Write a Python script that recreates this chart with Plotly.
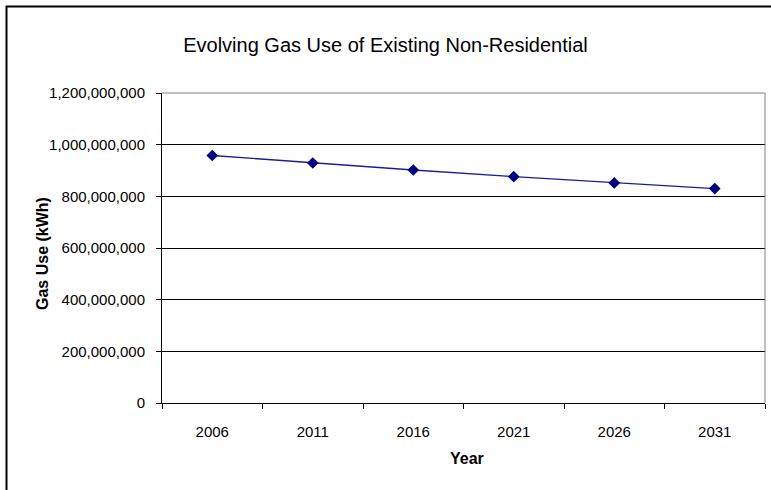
import plotly.graph_objects as go

# Gas use of existing non-residential buildings, by year
years = ["2006", "2011", "2016", "2021", "2026", "2031"]
gas_use_kwh = [958_000_000, 929_000_000, 902_000_000, 876_000_000, 852_000_000, 830_000_000]
y_ticks = [0, 200_000_000, 400_000_000, 600_000_000, 800_000_000, 1_000_000_000, 1_200_000_000]

FONT = "Arial, Liberation Sans, sans-serif"
W, H = 771, 490
L, R, T, B = 162, 6, 93, 87

fig = go.Figure()
fig.add_trace(go.Scatter(
    x=years, y=gas_use_kwh, mode="lines+markers",
    line=dict(color="#1c1c96", width=1.3),
    marker=dict(symbol="diamond", size=9, color="#000080"),
    showlegend=False,
))

fig.update_layout(
    width=W, height=H,
    margin=dict(l=L, r=R, t=T, b=B),
    paper_bgcolor="white", plot_bgcolor="white",
    font=dict(family=FONT, color="black"),
    title=dict(text="Evolving Gas Use of Existing Non-Residential",
               x=0.5, xref="container", y=1 - 45 / H, yref="container",
               xanchor="center", yanchor="middle",
               font=dict(size=20, family=FONT, color="black")),
)

fig.update_xaxes(
    type="category", range=[-0.5, len(years) - 0.5],
    showline=True, linecolor="black", linewidth=1,
    ticks="outside", ticklen=5, tickcolor="black", tickson="boundaries",
    tickfont=dict(size=15, family=FONT, color="black"),
    ticklabelstandoff=15,
    showgrid=False, zeroline=False,
)
fig.update_yaxes(
    range=[0, 1_200_000_000], tickvals=y_ticks, tickformat=",d",
    showline=True, linecolor="black", linewidth=1,
    ticks="outside", ticklen=5, tickcolor="black",
    tickfont=dict(size=15, family=FONT, color="black"),
    ticklabelstandoff=8,
    showgrid=True, gridcolor="black", gridwidth=1, zeroline=False,
)

pw, ph = W - L - R, H - T - B

def px_x(p):
    return (p - L) / pw

def px_y(p):
    return (H - B - p) / ph

# axis titles
fig.add_annotation(text="<b>Gas Use (kWh)</b>", xref="paper", yref="paper",
                   x=px_x(43), y=px_y(254), textangle=-90, showarrow=False,
                   xanchor="center", yanchor="middle",
                   font=dict(size=16, family=FONT, color="black"))
fig.add_annotation(text="<b>Year</b>", xref="paper", yref="paper",
                   x=px_x(467), y=px_y(458), showarrow=False,
                   xanchor="center", yanchor="middle",
                   font=dict(size=16, family=FONT, color="black"))

# grey top and right edges of the plot area
fig.add_shape(type="line", xref="paper", yref="paper", x0=0, x1=1, y0=1, y1=1,
              line=dict(color="#808080", width=1), layer="above")
fig.add_shape(type="line", xref="paper", yref="paper", x0=1, x1=1, y0=0, y1=1,
              line=dict(color="#808080", width=1), layer="above")

# outer chart frame
fig.add_shape(type="rect", xref="paper", yref="paper",
              x0=px_x(6.5), x1=px_x(790), y0=px_y(6.5), y1=px_y(510),
              line=dict(color="black", width=2), fillcolor="rgba(0,0,0,0)",
              layer="above")

fig.write_html("out.html")
